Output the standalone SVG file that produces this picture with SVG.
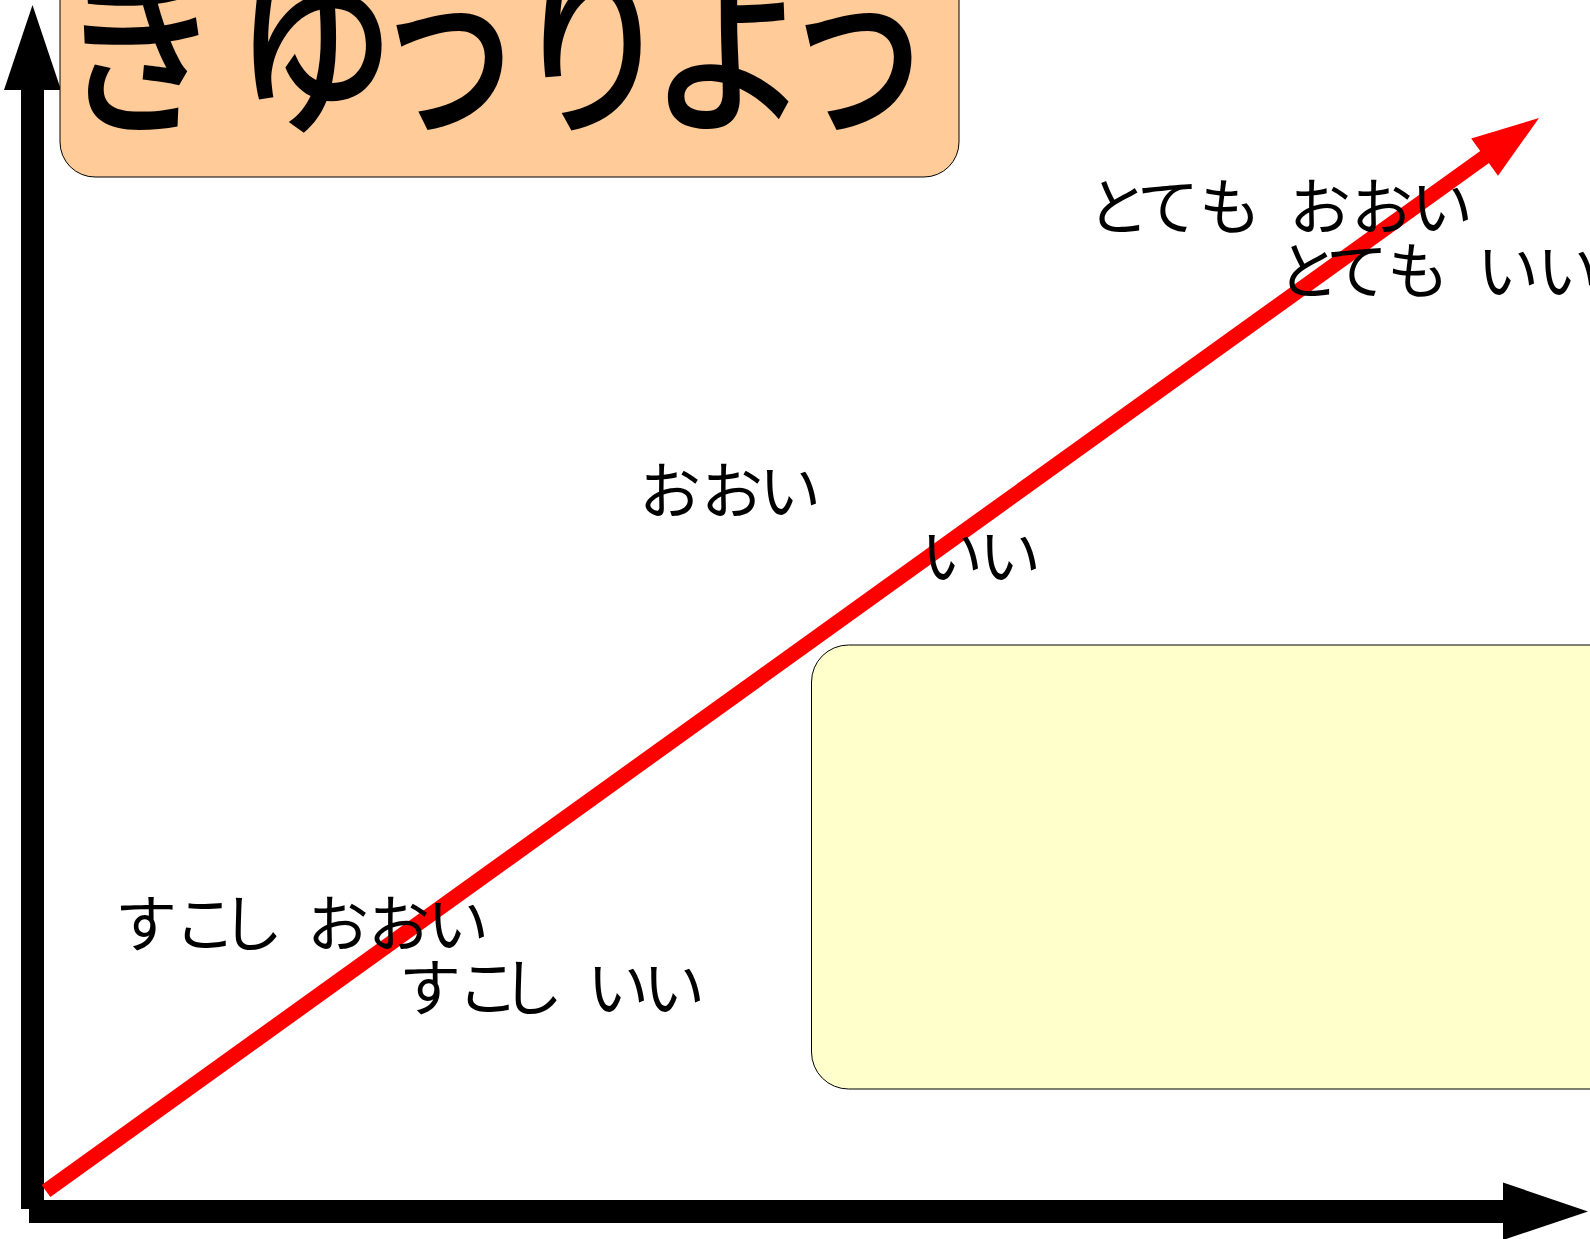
<svg xmlns="http://www.w3.org/2000/svg" width="1590" height="1239" viewBox="0 0 1590 1239">
  <style>
    .bg { fill: #ffffff; }
    .box { stroke: #000000; stroke-width: 1; }
    .title-box { fill: #ffcc99; }
    .note-box { fill: #ffffcc; }
    .axis { fill: #000000; stroke: none; }
    .trend { stroke: #ff0000; stroke-width: 15; stroke-linecap: butt; fill: none; }
    .trend-head { fill: #ff0000; stroke: none; }
    .label { font-family: "Noto Sans CJK JP", "Noto Sans", sans-serif; font-size: 62px; fill: #000000; }
    .title { font-family: "Noto Sans CJK JP", "Noto Sans", sans-serif; font-size: 190px; font-weight: 500; fill: #000000; }
  </style>
  <rect class="bg" x="0" y="0" width="1590" height="1239"/>

  <g id="connectors">
    <g id="axis-x">
      <rect class="axis" x="29" y="1200" width="1476" height="23"/>
      <polygon class="axis" points="1503,1182.5 1588,1211.5 1503,1240"/>
    </g>
    <g id="axis-y">
      <rect class="axis" x="21" y="88" width="23" height="1121"/>
      <polygon class="axis" points="4,90 32.5,5 61,90"/>
    </g>
    <g id="trend-arrow">
      <line class="trend" x1="46" y1="1191" x2="1486" y2="156"/>
      <polygon class="trend-head" points="1539,118 1498,175.8 1471.2,138.4"/>
    </g>
  </g>

  <g id="title">
    <rect class="box title-box" x="60" y="-40" width="899" height="217" rx="35" ry="35"/>
    <text class="title" transform="scale(0.85,1)" x="69.4 275.3 436.5 601.2 763.5 917.6" y="119">きゆうりよう</text>
  </g>

  <g id="note">
    <rect class="box note-box" x="811.5" y="645" width="900" height="444" rx="37" ry="37"/>
  </g>

  <g id="label-very-much">
    <text class="label" x="1087 1137 1199 1255 1289 1351 1411" y="230">とても おおい</text>
  </g>
  <g id="label-very-good">
    <text class="label" x="1277 1326 1387 1445 1477 1537" y="294">とても いい</text>
  </g>
  <g id="label-much">
    <text class="label" x="639 701 759" y="514">おおい</text>
  </g>
  <g id="label-good">
    <text class="label" x="921 979" y="579">いい</text>
  </g>
  <g id="label-little-much">
    <text class="label" x="115 174 221 270 307 368 427" y="947">すこし おおい</text>
  </g>
  <g id="label-little-good">
    <text class="label" x="399 457 501 550 587 643" y="1011">すこし いい</text>
  </g>
</svg>
